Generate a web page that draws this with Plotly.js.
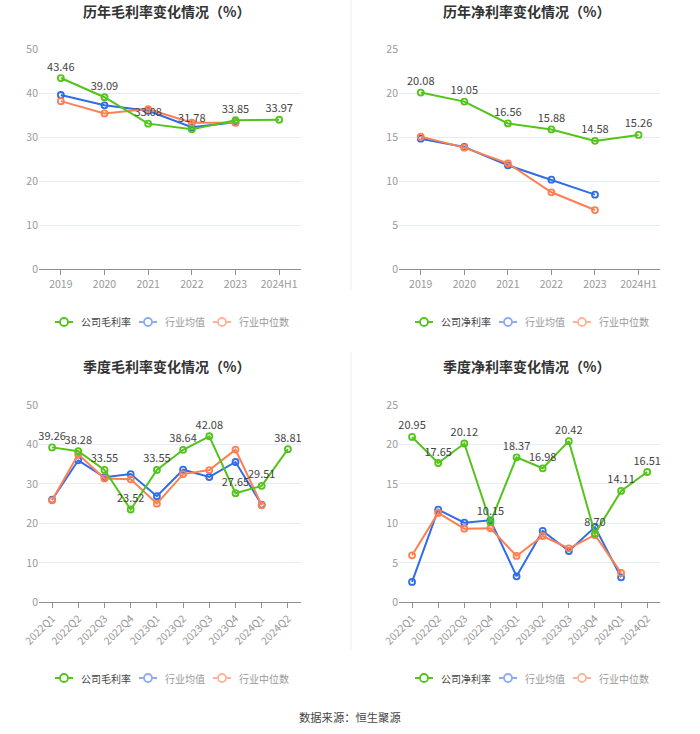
<!DOCTYPE html>
<html><head><meta charset="utf-8">
<script src="https://cdn.plot.ly/plotly-3.0.1.min.js"></script>
<style>html,body{margin:0;padding:0;background:#fff}#c{width:700px;height:734px}</style>
</head><body><div id="c"></div>
<script>
const years = ['2019','2020','2021','2022','2023','2024H1'];
const quarters = ['2022Q1','2022Q2','2022Q3','2022Q4','2023Q1','2023Q2','2023Q3','2023Q4','2024Q1','2024Q2'];

const annGrossCompany = [43.46, 39.09, 33.08, 31.78, 33.85, 33.97];
const annGrossAvg = [39.6, 37.25, 36.0, 32.25, 33.4, null];
const annGrossMed = [38.2, 35.4, 36.4, 33.3, 33.3, null];

const annNetCompany = [20.08, 19.05, 16.56, 15.88, 14.58, 15.26];
const annNetAvg = [14.83, 13.88, 11.8, 10.17, 8.46, null];
const annNetMed = [15.06, 13.81, 12.03, 8.73, 6.71, null];

const qGrossCompany = [39.26, 38.28, 33.55, 23.52, 33.55, 38.64, 42.08, 27.65, 29.51, 38.81];
const qGrossAvg = [26.0, 35.98, 31.67, 32.5, 26.9, 33.6, 31.76, 35.56, 24.75, null];
const qGrossMed = [25.84, 37.5, 31.4, 31.17, 25.0, 32.5, 33.5, 38.7, 24.6, null];

const qNetCompany = [20.95, 17.65, 20.12, 10.15, 18.37, 16.98, 20.42, 8.70, 14.11, 16.51];
const qNetAvg = [2.58, 11.74, 10.09, 10.39, 3.29, 9.04, 6.5, 9.54, 3.17, null];
const qNetMed = [5.95, 11.32, 9.33, 9.38, 5.87, 8.4, 6.84, 8.53, 3.72, null];

const titles = ['历年毛利率变化情况（%）','历年净利率变化情况（%）','季度毛利率变化情况（%）','季度净利率变化情况（%）'];
const legendNames = [['公司毛利率','行业均值','行业中位数'],['公司净利率','行业均值','行业中位数']];
const sourceText = '数据来源：恒生聚源';

const GREEN = '#52c41a', BLUE = '#2f6de6', ORANGE = '#ff7f50';
const LEG_COLORS = [GREEN, '#8aabf2', '#ffb49a'];
const LEG_TEXT = ['#444', '#999', '#999'];
const FONT = '"Noto Sans CJK SC", "Noto Sans", sans-serif';

function series(x, y, color, xa, ya, withText) {
  const t = {
    x: x, y: y, xaxis: xa, yaxis: ya, type: 'scatter',
    mode: withText ? 'lines+markers+text' : 'lines+markers',
    line: {color: color, width: 2},
    marker: {symbol: 'circle-open', size: 6, color: color, line: {width: 1.8, color: color}},
    showlegend: false, hoverinfo: 'skip', cliponaxis: false
  };
  if (withText) {
    t.text = y.map(v => v == null ? '' : v.toFixed(2));
    t.textposition = 'top center';
    t.textfont = {family: FONT, size: 11, color: '#444'};
  }
  return t;
}

const panels = [
  {x: years, c: annGrossCompany, a: annGrossAvg, m: annGrossMed, xa: 'x', ya: 'y', names: legendNames[0], lx: 55, ly: 322},
  {x: years, c: annNetCompany, a: annNetAvg, m: annNetMed, xa: 'x2', ya: 'y2', names: legendNames[1], lx: 415, ly: 322},
  {x: quarters, c: qGrossCompany, a: qGrossAvg, m: qGrossMed, xa: 'x3', ya: 'y3', names: legendNames[0], lx: 55, ly: 678},
  {x: quarters, c: qNetCompany, a: qNetAvg, m: qNetMed, xa: 'x4', ya: 'y4', names: legendNames[1], lx: 415, ly: 678}
];

const data = [];
panels.forEach(p => {
  data.push(series(p.x, p.a, BLUE, p.xa, p.ya, false));
  data.push(series(p.x, p.m, ORANGE, p.xa, p.ya, false));
  data.push(series(p.x, p.c, GREEN, p.xa, p.ya, true));
});

const W = 700, H = 734;
const px = v => v / W, py = v => 1 - v / H;

function xaxis(domain, n, angle, anchor) {
  return {
    domain: domain, type: 'category', range: [-0.5, n - 0.5], anchor: anchor,
    showgrid: false, zeroline: false, showline: true, linecolor: '#8a8f99', linewidth: 1,
    ticks: 'outside', ticklen: 5, tickcolor: '#8a8f99',
    tickfont: {family: FONT, size: 10.5, color: '#999'}, tickangle: angle, fixedrange: true
  };
}
function yaxis(domain, max, dtick, anchor) {
  return {
    domain: domain, range: [0, max], dtick: dtick, anchor: anchor,
    showgrid: true, gridcolor: '#e6ebf5', gridwidth: 1, zeroline: false, showline: false,
    tickfont: {family: FONT, size: 10.5, color: '#999'}, ticks: '', ticklen: 0, fixedrange: true
  };
}

const titlePos = [[166, 11], [526, 11], [166, 366], [526, 366]];
const annotations = titles.map((t, i) => ({
  text: '<b>' + t + '</b>', x: px(titlePos[i][0]), y: py(titlePos[i][1]), xref: 'paper', yref: 'paper',
  xanchor: 'center', yanchor: 'middle', showarrow: false,
  font: {family: FONT, size: 14, color: '#333'}
}));
annotations.push({
  text: sourceText, x: px(350.5), y: py(717), xref: 'paper', yref: 'paper',
  xanchor: 'center', yanchor: 'middle', showarrow: false,
  font: {family: FONT, size: 11.3, color: '#444'}
});

const shapes = [
  {type: 'line', xref: 'paper', yref: 'paper', x0: px(351), x1: px(351), y0: py(0), y1: py(290), line: {color: '#f0f0f0', width: 1}},
  {type: 'line', xref: 'paper', yref: 'paper', x0: px(351), x1: px(351), y0: py(352), y1: py(650), line: {color: '#f0f0f0', width: 1}}
];

// legends (drawn as decoration)
const LFS = 10;
panels.forEach(p => {
  let x = p.lx;
  p.names.forEach((name, i) => {
    const c = LEG_COLORS[i];
    shapes.push({type: 'line', xref: 'paper', yref: 'paper', x0: px(x), x1: px(x + 18), y0: py(p.ly), y1: py(p.ly), line: {color: c, width: 2}});
    shapes.push({type: 'circle', xref: 'paper', yref: 'paper', x0: px(x + 5), x1: px(x + 13), y0: py(p.ly + 4), y1: py(p.ly - 4), fillcolor: '#fff', line: {color: c, width: 1.8}});
    annotations.push({
      text: name, x: px(x + 24), y: py(p.ly), xref: 'paper', yref: 'paper',
      xanchor: 'left', yanchor: 'middle', showarrow: false,
      font: {family: FONT, size: LFS, color: LEG_TEXT[i]}
    });
    x += 24 + name.length * LFS + 10;
  });
});

const layout = {
  width: W, height: H, margin: {l: 0, r: 0, t: 0, b: 0},
  paper_bgcolor: '#fff', plot_bgcolor: '#fff', showlegend: false,
  xaxis: xaxis([px(39), px(301)], 6, 0, 'y'),
  yaxis: yaxis([py(269), py(49.3)], 50, 10, 'x'),
  xaxis2: xaxis([px(399), px(660.3)], 6, 0, 'y2'),
  yaxis2: yaxis([py(269), py(49.3)], 25, 5, 'x2'),
  xaxis3: xaxis([px(39), px(301)], 10, -45, 'y3'),
  yaxis3: yaxis([py(602.3), py(405)], 50, 10, 'x3'),
  xaxis4: xaxis([px(399), px(660.3)], 10, -45, 'y4'),
  yaxis4: yaxis([py(602.3), py(405)], 25, 5, 'x4'),
  annotations: annotations,
  shapes: shapes
};

Plotly.newPlot('c', data, layout, {staticPlot: true, displayModeBar: false});
</script></body></html>
